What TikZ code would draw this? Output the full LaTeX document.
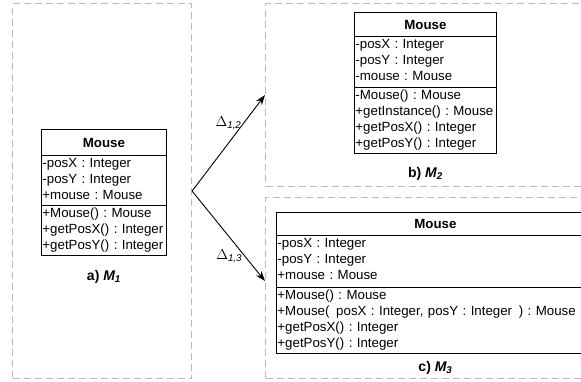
\documentclass[tikz,border=0pt]{standalone}
\usepackage{amsmath}
\usepackage{fontspec}
\setmainfont{Liberation Sans}
\usetikzlibrary{positioning,shapes.multipart,arrows.meta}
\frenchspacing
\hyphenpenalty=10000
\newcommand{\clshead}[2]{\hspace*{\fill}\textbf{Mouse}\rule[-#1]{0pt}{#2}\hspace*{\fill}\null}
\tikzset{
  panel/.style={draw=black!27,line width=1.1pt,dash pattern=on 7pt off 4pt,anchor=north west,inner sep=0pt},
  umlclass/.style={draw,line width=0.9pt,rectangle split,rectangle split parts=3,anchor=north west,
    text width=#1,align=left,inner xsep=1pt,inner ysep=2.5pt,font=\fontsize{13.3}{16}\selectfont},
  caption/.style={font=\fontsize{14}{16}\selectfont\bfseries,inner sep=0pt},
  conn/.style={-{Stealth[length=10pt,width=7pt]},line width=0.9pt},
  delta/.style={font=\fontsize{14}{16}\selectfont,inner sep=1pt}
}
\begin{document}
\begin{tikzpicture}[x=1pt,y=-1pt]
      \useasboundingbox (0,0) rectangle (581,381);
      \clip (0,0) rectangle (581,381);
      \node[panel,minimum width=179pt,minimum height=375pt] (pa) at (12,3) {};
      \node[panel,minimum width=340pt,minimum height=183pt] (pb) at (265,3) {};
      \node[panel,minimum width=340pt,minimum height=181pt] (pc) at (265,197) {};
      \node[umlclass=123pt] (m1) at (41,129) {\clshead{5pt}{20pt}
        \nodepart{second}-posX : Integer\\-posY : Integer\\+mouse : Mouse\rule[-3pt]{0pt}{0pt}
        \nodepart{third}+Mouse() : Mouse\\+getPosX() : Integer\\+getPosY() : Integer};
      \node[umlclass=140pt] (m2) at (354,12) {\clshead{4pt}{18pt}
        \nodepart{second}-posX : Integer\\-posY : Integer\\-mouse : Mouse\rule[-4pt]{0pt}{0pt}
        \nodepart{third}-Mouse() : Mouse\\+getInstance() : Mouse\\+getPosX() : Integer\\+getPosY() : Integer};
      \node[umlclass=316pt] (m3) at (276,212) {\clshead{4pt}{17pt}
        \nodepart{second}-posX : Integer\\-posY : Integer\\+mouse : Mouse\rule[-5pt]{0pt}{0pt}
        \nodepart{third}+Mouse() : Mouse\\+Mouse(\ \,posX : Integer, posY : Integer\ \,) : Mouse\\+getPosX() : Integer\\+getPosY() : Integer};
      \node[caption,below=14pt of m1] (ca) {a) \textit{M\textsubscript{1}}};
      \node[caption,below=13pt of m2] (cb) {b) \textit{M\textsubscript{2}}};
      \node[caption,below=7pt of m3] (cc) {c) \textit{M\textsubscript{3}}};
      \draw[conn] (pa.east) -- (pb.west) node[delta,pos=0.71,left=1pt] {$\Delta_{\textit{1,2}}$};
      \draw[conn] (pa.east) -- ([yshift=7pt]pc.west) node[delta,pos=0.72,left=1pt] {$\Delta_{\textit{1,3}}$};
    \end{tikzpicture}
\end{document}
